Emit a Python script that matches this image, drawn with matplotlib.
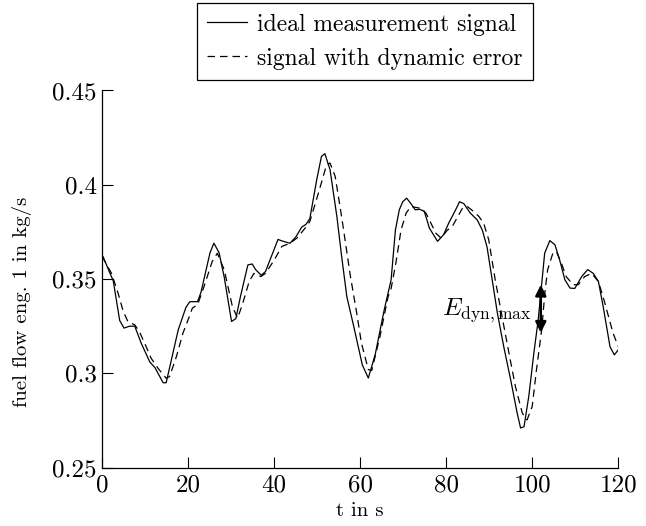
import matplotlib
matplotlib.use("Agg")
import matplotlib.pyplot as plt
from matplotlib.transforms import blended_transform_factory

plt.rcParams['font.family'] = ['cmr10', 'DejaVu Serif']
plt.rcParams['mathtext.fontset'] = 'cm'
plt.rcParams['axes.formatter.use_mathtext'] = True

t_ideal = [0.0, 0.2, 2.6, 4.1, 5.1, 6.4, 7.6, 9.1, 11.1, 12.3, 14.2, 14.9, 17.7, 19.5, 20.4,
           22.2, 23.0, 25.1, 26.0, 27.2, 28.4, 30.1, 31.1, 32.2, 33.9, 34.9, 35.7, 37.0, 38.0,
           40.9, 42.1, 43.7, 45.1, 46.4, 47.4, 48.3, 49.9, 51.0, 51.8, 53.0, 54.6, 55.7, 56.9,
           58.5, 60.5, 61.9, 63.5, 65.6, 67.2, 68.2, 69.1, 69.9, 70.8, 71.8, 72.8, 73.8, 74.9,
           76.1, 78.0, 79.4, 80.6, 82.2, 83.1, 84.1, 85.6, 87.2, 88.4, 89.5, 90.7, 91.9, 93.4,
           95.0, 96.5, 97.3, 98.1, 99.2, 100.4, 101.4, 102.9, 104.1, 105.3, 106.4, 107.6, 108.8,
           109.9, 111.5, 112.9, 114.2, 115.4, 116.5, 118.1, 119.1, 120.0]
v_ideal = [0.362, 0.362, 0.349, 0.328, 0.324, 0.325, 0.325, 0.316, 0.306, 0.303, 0.295, 0.295,
           0.323, 0.335, 0.338, 0.338, 0.343, 0.364, 0.369, 0.364, 0.351, 0.3275, 0.329, 0.341,
           0.3575, 0.358, 0.355, 0.352, 0.354, 0.371, 0.370, 0.369, 0.3725, 0.3775, 0.379, 0.382,
           0.4026, 0.415, 0.4165, 0.408, 0.383, 0.362, 0.3407, 0.325, 0.3045, 0.2975, 0.310,
           0.3337, 0.3496, 0.376, 0.3867, 0.391, 0.3929, 0.390, 0.3867, 0.387, 0.386, 0.377,
           0.370, 0.3735, 0.3797, 0.3867, 0.391, 0.390, 0.385, 0.3814, 0.376, 0.367, 0.3496,
           0.332, 0.314, 0.2965, 0.279, 0.271, 0.2717, 0.2877, 0.311, 0.3284, 0.3637, 0.3704,
           0.3681, 0.360, 0.3496, 0.3452, 0.345, 0.3513, 0.355, 0.353, 0.3487, 0.3354, 0.314,
           0.3098, 0.3124]

# signal with dynamic error
t_dyn = [0.0, 2.2, 3.7, 4.9, 6.0, 7.6, 8.7, 9.9, 11.4, 13.0, 14.9, 15.7, 17.3, 18.8, 20.0,
         21.0, 22.2, 23.7, 25.6, 26.8, 28.4, 30.3, 31.5, 32.6, 34.2, 35.3, 36.9, 38.0, 40.0,
         41.8, 43.7, 45.3, 47.2, 48.3, 50.3, 52.2, 53.0, 54.2, 55.7, 57.7, 59.2, 60.3, 61.9,
         62.7, 64.6, 66.5, 67.2, 68.3, 69.5, 70.7, 71.8, 73.8, 75.3, 77.6, 78.8, 80.3, 81.4,
         83.8, 84.9, 86.4, 87.6, 88.7, 89.9, 91.4, 93.0, 94.6, 96.1, 97.7, 98.8, 100.0, 101.0,
         102.2, 103.0, 103.6, 104.8, 105.6, 106.8, 107.9, 109.5, 110.7, 112.2, 113.8, 115.4,
         116.9, 118.8, 120.0]
v_dyn = [0.362, 0.353, 0.3427, 0.333, 0.3275, 0.3257, 0.322, 0.316, 0.308, 0.3027, 0.2974,
         0.2983, 0.309, 0.3213, 0.3284, 0.3346, 0.3363, 0.346, 0.3593, 0.3637, 0.3549, 0.3354,
         0.3293, 0.3363, 0.3487, 0.353, 0.3513, 0.353, 0.360, 0.3673, 0.369, 0.3717, 0.377,
         0.3805, 0.3956, 0.4106, 0.4115, 0.4044, 0.383, 0.352, 0.332, 0.316, 0.302, 0.3015,
         0.3195, 0.3407, 0.345, 0.3584, 0.376, 0.385, 0.3885, 0.3876, 0.385, 0.3743, 0.3717,
         0.376, 0.3778, 0.3876, 0.3885, 0.3858, 0.3832, 0.3797, 0.3708, 0.3496, 0.330, 0.3107,
         0.293, 0.2789, 0.2753, 0.2824, 0.302, 0.323, 0.344, 0.355, 0.3637, 0.3646, 0.3584,
         0.3513, 0.347, 0.347, 0.3513, 0.353, 0.3487, 0.3372, 0.3213, 0.3142]

x_ticks = [0, 20, 40, 60, 80, 100, 120]
y_ticks = [0.25, 0.3, 0.35, 0.4, 0.45]
y_tick_labels = ["0.25", "0.3", "0.35", "0.4", "0.45"]

arrow_t = 102.0
arrow_top = 0.347
arrow_bottom = 0.3215

fig = plt.figure(figsize=(6.46, 5.26), dpi=100)
ax = fig.add_axes([0.158, 0.111, 0.799, 0.717])

ax.plot(t_ideal, v_ideal, color='black', lw=0.9, label='ideal measurement signal')
ax.plot(t_dyn, v_dyn, color='black', lw=0.9, ls=(0, (6, 4)), label='signal with dynamic error')

ax.set_xlim(0, 120)
ax.set_ylim(0.25, 0.45)
ax.set_xticks(x_ticks)
ax.set_xticklabels([str(v) for v in x_ticks])
ax.set_yticks(y_ticks)
ax.set_yticklabels(y_tick_labels)
for s in ['top', 'right']:
    ax.spines[s].set_visible(False)
ax.spines['left'].set_linewidth(0.9)
ax.spines['bottom'].set_linewidth(0.9)
ax.tick_params(direction='in', length=8, width=0.8, labelsize=18, pad=5)
ax.tick_params(axis='y', pad=4)

ax.set_xlabel('t in s', fontsize=15, labelpad=4)
ax.set_ylabel('fuel flow eng. 1 in kg/s', fontsize=15)
ax.yaxis.set_label_coords(-0.135, 0.44)

ax.annotate('', xy=(arrow_t, arrow_top), xytext=(arrow_t, arrow_bottom),
            arrowprops=dict(arrowstyle='<|-|>', color='black', lw=1.8,
                            mutation_scale=16, shrinkA=0, shrinkB=0))
ax.text(arrow_t - 2.2, 0.333, r'$E_{\rm dyn,max}$', fontsize=18, ha='right', va='center')

trans = blended_transform_factory(ax.transAxes, fig.transFigure)
leg = ax.legend(loc='upper center', bbox_to_anchor=(0.509, (526 - 3) / 526),
                bbox_transform=trans, fontsize=17,
                frameon=True, fancybox=False, edgecolor='black', framealpha=1,
                handlelength=1.7, borderpad=0.45, labelspacing=0.5, handletextpad=0.4,
                borderaxespad=0)
leg.get_frame().set_linewidth(0.9)

fig.savefig('out.png', dpi=100)
